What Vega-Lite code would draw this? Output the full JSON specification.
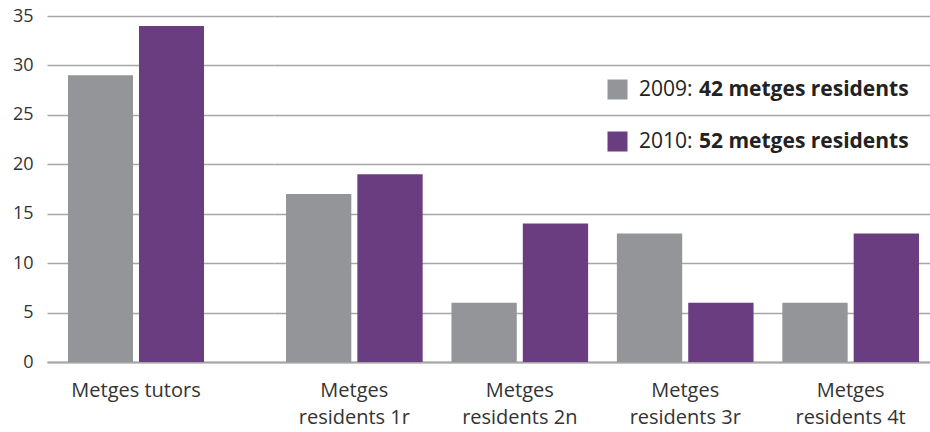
{
  "$schema": "https://vega.github.io/schema/vega-lite/v6.json",
  "background": "white",
  "padding": {"left": 12, "top": 7, "right": 0, "bottom": 0},
  "autosize": {"type": "pad"},
  "spacing": 0,
  "config": {
    "view": {"stroke": null},
    "font": "Open Sans",
    "axis": {
      "gridColor": "#a6a6a6",
      "gridWidth": 1.5,
      "domainColor": "#a6a6a6",
      "domainWidth": 1.8,
      "labelColor": "#333333",
      "ticks": false,
      "title": null
    }
  },
  "datasets": {
    "bars": [
      {"category": "Metges tutors", "year": "2009", "value": 29, "total": 42},
      {"category": "Metges tutors", "year": "2010", "value": 34, "total": 52},
      {"category": "Metges residents 1r", "year": "2009", "value": 17, "total": 42},
      {"category": "Metges residents 1r", "year": "2010", "value": 19, "total": 52},
      {"category": "Metges residents 2n", "year": "2009", "value": 6, "total": 42},
      {"category": "Metges residents 2n", "year": "2010", "value": 14, "total": 52},
      {"category": "Metges residents 3r", "year": "2009", "value": 13, "total": 42},
      {"category": "Metges residents 3r", "year": "2010", "value": 6, "total": 52},
      {"category": "Metges residents 4t", "year": "2009", "value": 6, "total": 42},
      {"category": "Metges residents 4t", "year": "2010", "value": 13, "total": 52}
    ]
  },
  "resolve": {
    "scale": {"xOffset": "independent"},
    "legend": {"color": "independent", "opacity": "independent"}
  },
  "hconcat": [
    {
      "width": 227,
      "height": 346,
      "data": {"name": "bars"},
      "transform": [{"filter": "datum.category == 'Metges tutors'"}],
      "mark": {"type": "bar"},
      "encoding": {
        "x": {
          "field": "category",
          "type": "nominal",
          "scale": {"paddingInner": 0, "paddingOuter": 0.3346, "align": 0.2308},
          "axis": {"labelAngle": 0, "labelFontSize": 20, "labelPadding": 18, "domain": true, "grid": false}
        },
        "xOffset": {
          "field": "year",
          "type": "nominal",
          "scale": {"paddingInner": 0.0845, "paddingOuter": 0}
        },
        "y": {
          "field": "value",
          "type": "quantitative",
          "scale": {"domain": [0, 35], "nice": false},
          "axis": {"values": [0, 5, 10, 15, 20, 25, 30, 35], "grid": true, "domain": false, "labelFontSize": 18, "labelPadding": 14}
        },
        "color": {
          "field": "year",
          "type": "nominal",
          "scale": {"domain": ["2009", "2010"], "range": ["#939598", "#6a3d80"]},
          "legend": null
        }
      }
    },
    {
      "width": 657,
      "height": 346,
      "data": {"name": "bars"},
      "transform": [{"filter": "datum.category != 'Metges tutors'"}],
      "mark": {"type": "bar"},
      "encoding": {
        "x": {
          "field": "category",
          "type": "nominal",
          "sort": ["Metges residents 1r", "Metges residents 2n", "Metges residents 3r", "Metges residents 4t"],
          "scale": {"paddingInner": 0.174, "paddingOuter": 0.0726},
          "axis": {
            "labelAngle": 0,
            "labelFontSize": 20,
            "labelPadding": 18,
            "labelLineHeight": 27,
            "labelExpr": "['Metges', replace(datum.value, 'Metges ', '')]",
            "domain": true,
            "grid": false
          }
        },
        "xOffset": {
          "field": "year",
          "type": "nominal",
          "scale": {"paddingInner": 0.0845, "paddingOuter": 0}
        },
        "y": {
          "field": "value",
          "type": "quantitative",
          "scale": {"domain": [0, 35], "nice": false},
          "axis": {"values": [0, 5, 10, 15, 20, 25, 30, 35], "grid": true, "domain": false, "labels": false}
        },
        "color": {
          "field": "year",
          "type": "nominal",
          "scale": {"domain": ["2009", "2010"], "range": ["#939598", "#6a3d80"]},
          "legend": {
            "orient": "none",
            "legendX": 333,
            "legendY": 63,
            "title": null,
            "padding": 0,
            "symbolType": "square",
            "symbolSize": 400,
            "symbolStrokeWidth": 0,
            "symbolOpacity": 1,
            "labelFontSize": 21,
            "labelColor": "#222222",
            "labelOffset": 11,
            "labelLimit": 0,
            "rowPadding": 30,
            "labelExpr": "datum.label + ':'"
          }
        },
        "opacity": {
          "field": "total",
          "type": "nominal",
          "scale": {"range": [1, 1]},
          "legend": {
            "orient": "none",
            "legendX": 404,
            "legendY": 63,
            "title": null,
            "padding": 0,
            "symbolType": "square",
            "symbolSize": 400,
            "symbolFillColor": "transparent",
            "symbolStrokeColor": "transparent",
            "symbolStrokeWidth": 0,
            "labelFontSize": 21,
            "labelFontWeight": "bold",
            "labelColor": "#222222",
            "labelOffset": 0,
            "labelLimit": 0,
            "rowPadding": 30,
            "labelExpr": "datum.label + ' metges residents'"
          }
        }
      }
    }
  ]
}
